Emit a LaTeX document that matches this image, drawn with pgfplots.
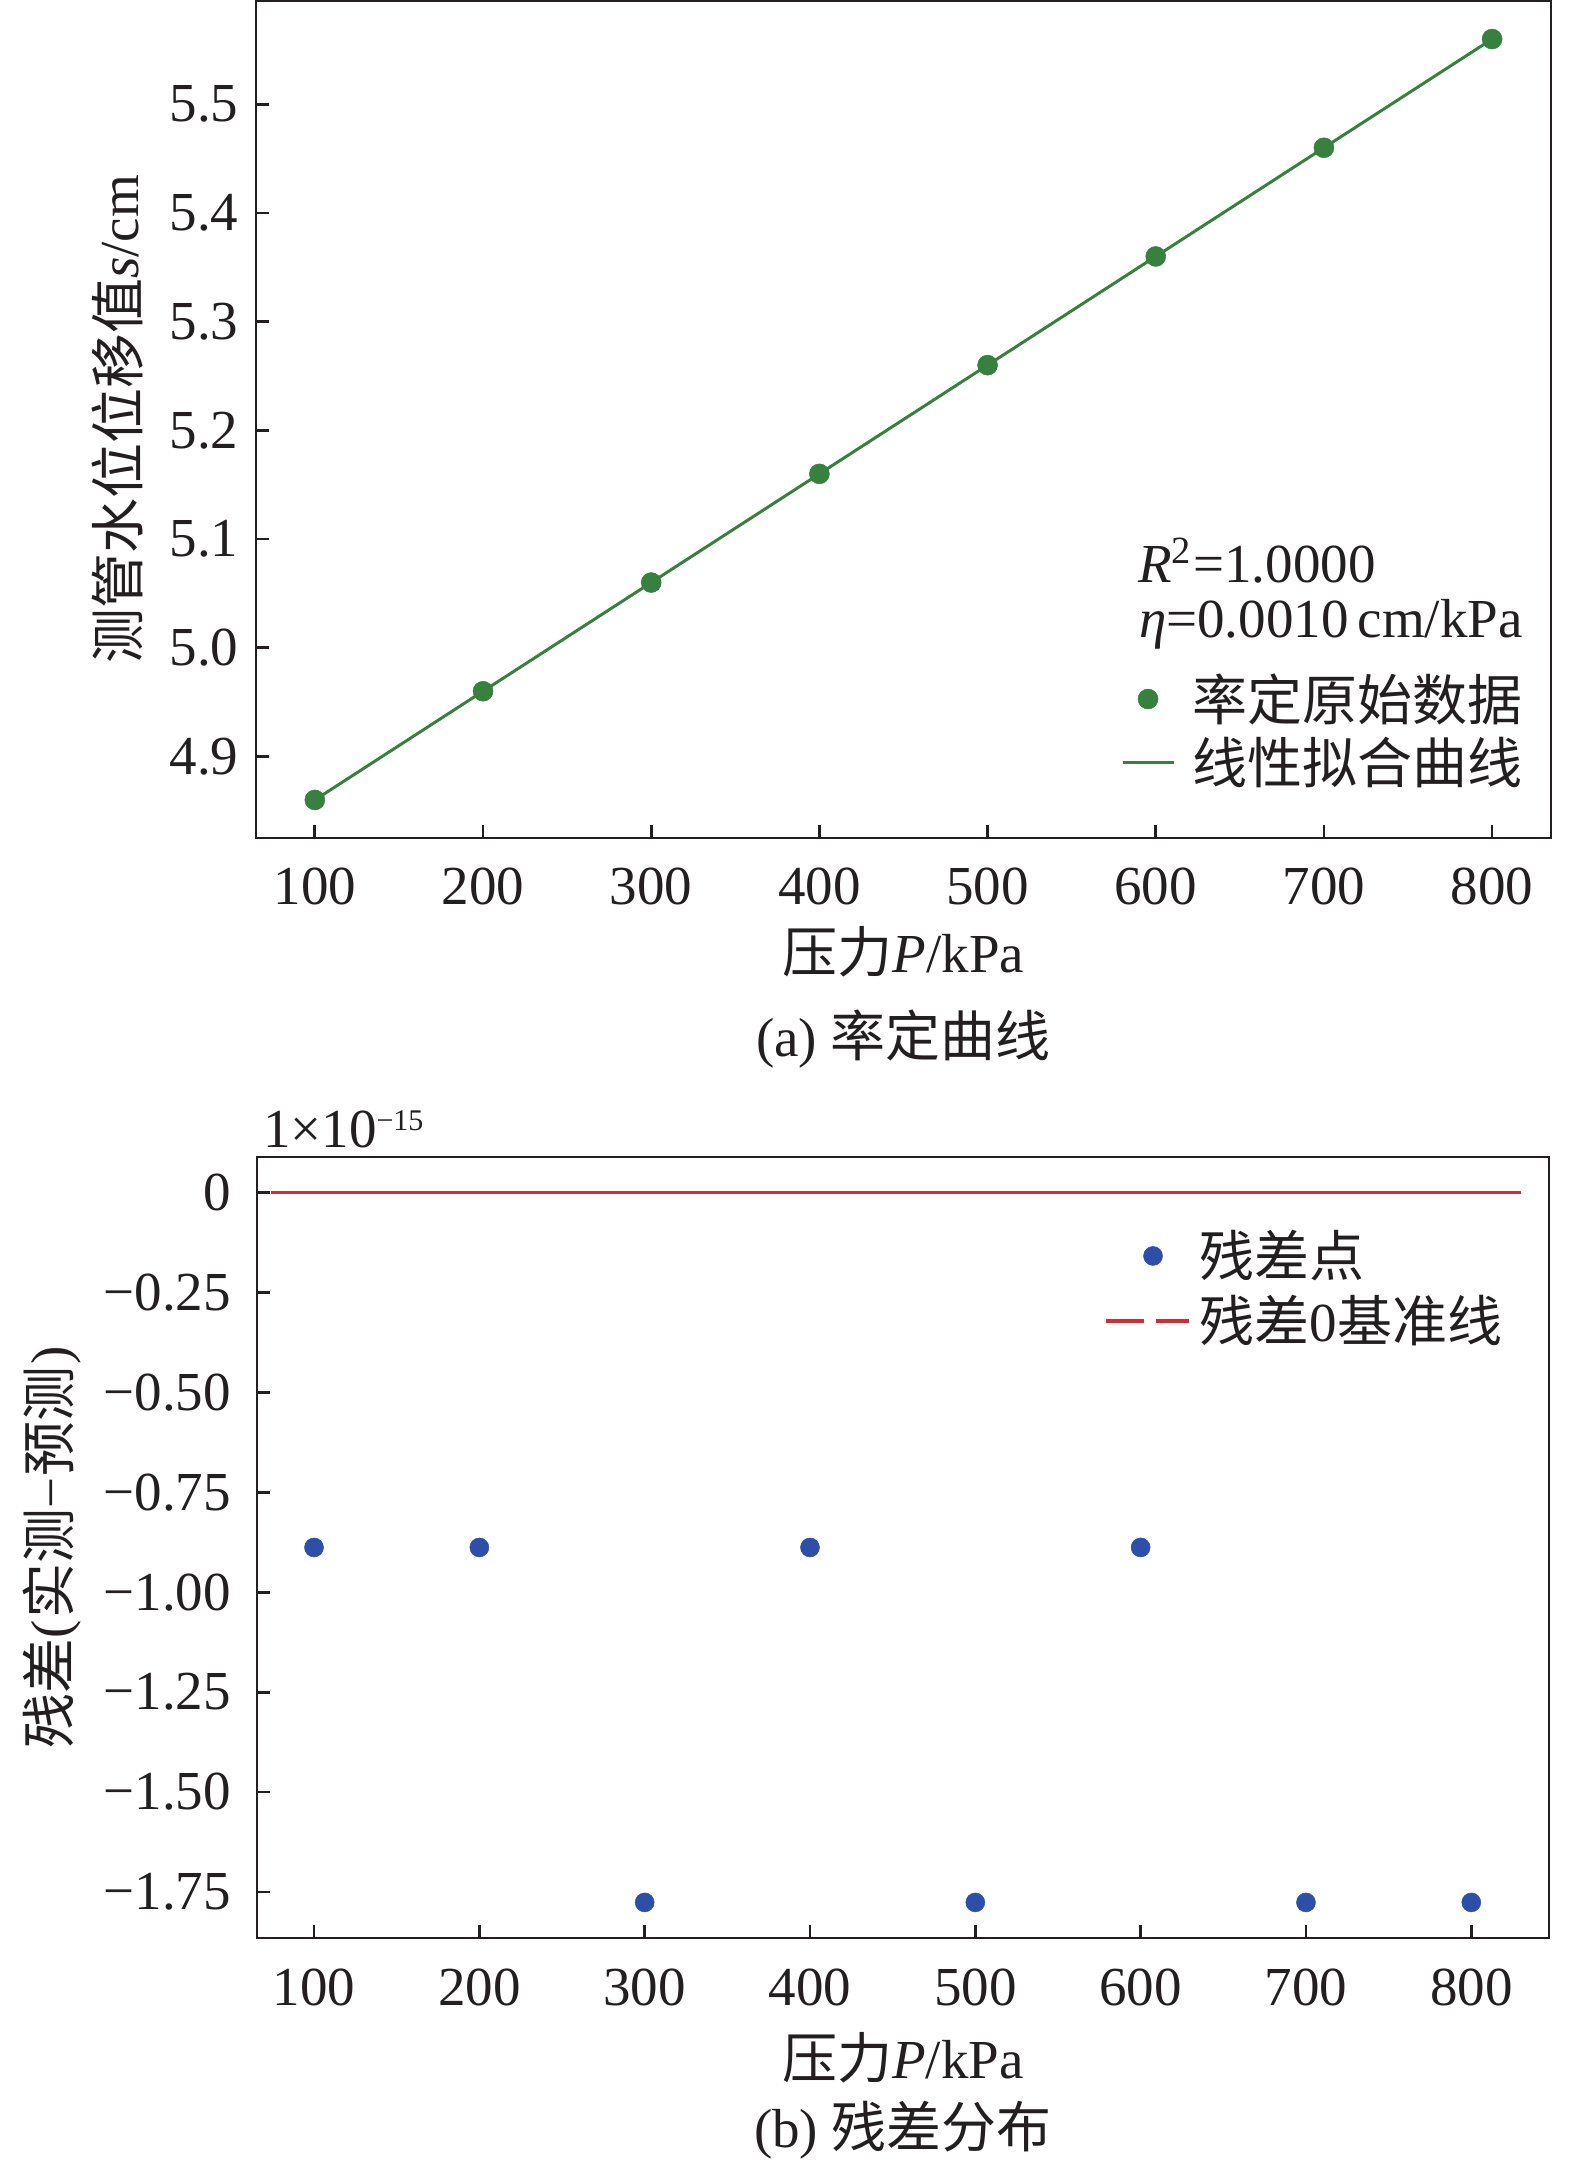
\documentclass[border=0pt]{standalone}
\usepackage{fontspec}
\setmainfont{Liberation Serif}
\newfontfamily\cjk{Noto Sans CJK SC}
\usepackage{pgfplots}
\pgfplotsset{compat=1.18}
\definecolor{tgreen}{RGB}{56,128,62}
\definecolor{tblue}{RGB}{45,79,168}
\definecolor{tred}{RGB}{218,41,50}
\definecolor{tblack}{RGB}{35,31,32}
\pgfplotsset{
  common/.style={
    scale only axis, anchor=south west, clip=false,
    font=\fontsize{11}{13}\selectfont,
    axis line style={line width=0.55pt, draw=tblack},
    tick style={line width=0.55pt, draw=tblack},
    tick align=inside, major tick length=2.6pt,
    xtick pos=left, ytick pos=left,
    xtick={100,200,300,400,500,600,700,800},
    xticklabels={100,200,300,400,500,600,700,800},
    tick label style={font=\fontsize{11}{13}\selectfont, text=tblack},
    label style={font=\fontsize{11}{13}\selectfont, text=tblack},
    legend cell align=left,
  },
  legdotA/.style={legend image code/.code={\draw[mark repeat=2,mark phase=2,##1] plot coordinates {(0pt,0pt)(5.1pt,0pt)(10.2pt,0pt)};}},
  leglineA/.style={legend image code/.code={\draw[##1] (0pt,0pt) -- (10.2pt,0pt);}},
  legdotB/.style={legend image code/.code={\draw[mark repeat=2,mark phase=2,##1] plot coordinates {(0pt,0pt)(9.4pt,0pt)(16.6pt,0pt)};}},
  leglineB/.style={legend image code/.code={\draw[##1, line width=0.8pt, dash pattern=on 7.6pt off 2.3pt] (0pt,0pt) -- (16.6pt,0pt);}},
}
\begin{document}
\begin{tikzpicture}[font=\fontsize{11}{13}\selectfont]
\path[use as bounding box] (0,0) rectangle (315pt,433.8pt);

\begin{axis}[common,
  at={(51.2pt,266.2pt)}, width=259pt, height=167.4pt,
  xmin=65, xmax=835, ymin=4.825, ymax=5.595,
  ytick={4.9,5.0,5.1,5.2,5.3,5.4,5.5},
  yticklabels={4.9,5.0,5.1,5.2,5.3,5.4,5.5},
  xticklabel style={yshift=-2.4pt},
  xlabel={{\cjk 压力}\textit{P}/kPa},
  ylabel={{\cjk 测管水位位移值}\textit{s}/cm},
  xlabel style={at={(axis description cs:0.5,-0.1362)}, anchor=center},
  ylabel style={at={(axis description cs:-0.10656,0.5)}, anchor=center},
  legend style={at={(axis description cs:0.668,0.1947)}, anchor=north west,
    draw=none, fill=none, inner sep=0pt, outer sep=0pt,
    row sep=3pt, column sep=3.4pt, text=tblack,
    font=\fontsize{11}{13}\selectfont,
    nodes={inner sep=0pt, text height=9pt, text depth=0.6pt}},
]
\addplot[only marks, color=tgreen, mark=*, mark size=2pt, mark options={draw=tgreen, fill=tgreen, line width=0.1pt}, legdotA]
  coordinates {(100,4.86)(200,4.96)(300,5.06)(400,5.16)(500,5.26)(600,5.36)(700,5.46)(800,5.56)};
\addlegendentry{{\cjk 率定原始数据}}
\addplot[tgreen, line width=0.6pt, no markers, leglineA]
  coordinates {(100,4.86)(800,5.56)};
\addlegendentry{{\cjk 线性拟合曲线}}
\node[anchor=base west, inner sep=0pt, text=tblack, xshift=176.2pt, yshift=51pt] at (axis description cs:0,0) {\textit{R}\textsuperscript{2}=1.0000};
\node[anchor=base west, inner sep=0pt, text=tblack, xshift=176.4pt, yshift=40pt] at (axis description cs:0,0) {\textit{η}=0.0010\,cm/kPa};
\node[anchor=center, text=tblack] at (axis description cs:0.5,-0.2401) {(a) {\cjk 率定曲线}};
\end{axis}

\begin{axis}[common,
  at={(51.4pt,46.2pt)}, width=258.4pt, height=156.2pt,
  xmin=65.5, xmax=847, ymin=-1.865, ymax=0.0888,
  ytick={-1.75,-1.5,-1.25,-1,-0.75,-0.5,-0.25,0},
  yticklabels={−1.75,−1.50,−1.25,−1.00,−0.75,−0.50,−0.25,0},
  yticklabel style={xshift=-1.7pt},
  xticklabel style={yshift=-2.7pt},
  xlabel={{\cjk 压力}\textit{P}/kPa},
  ylabel={{\cjk 残差}(\kern0.5pt{\cjk 实测}−{\cjk 预测}\kern0.5pt)},
  xlabel style={at={(axis description cs:0.5,-0.1537)}, anchor=center},
  ylabel style={at={(axis description cs:-0.15867,0.5)}, anchor=center},
  legend style={at={(axis description cs:0.6556,0.904)}, anchor=north west,
    draw=none, fill=none, inner sep=0pt, outer sep=0pt,
    row sep=3.4pt, column sep=1.7pt, text=tblack,
    font=\fontsize{11}{13}\selectfont,
    nodes={inner sep=0pt, text height=9pt, text depth=0.6pt}},
]
\addplot[only marks, color=tblue, mark=*, mark size=1.9pt, mark options={draw=tblue, fill=tblue, line width=0.1pt}, legdotB]
  coordinates {(100,-0.888)(200,-0.888)(300,-1.776)(400,-0.888)(500,-1.776)(600,-0.888)(700,-1.776)(800,-1.776)};
\addlegendentry{{\cjk 残差点}}
\addplot[tred, line width=0.6pt, no markers, leglineB]
  coordinates {(73.8,0)(830,0)};
\addlegendentry{{\cjk 残差}0{\cjk 基准线}}
\node[anchor=base west, inner sep=0pt, text=tblack, xshift=1pt, yshift=1.9pt] at (axis description cs:0,1) {1×10\raisebox{3.3pt}{\fontsize{6}{7}\selectfont −15}};
\node[anchor=center, text=tblack] at (axis description cs:0.5,-0.2458) {(b) {\cjk 残差分布}};
\end{axis}
\end{tikzpicture}
\end{document}
